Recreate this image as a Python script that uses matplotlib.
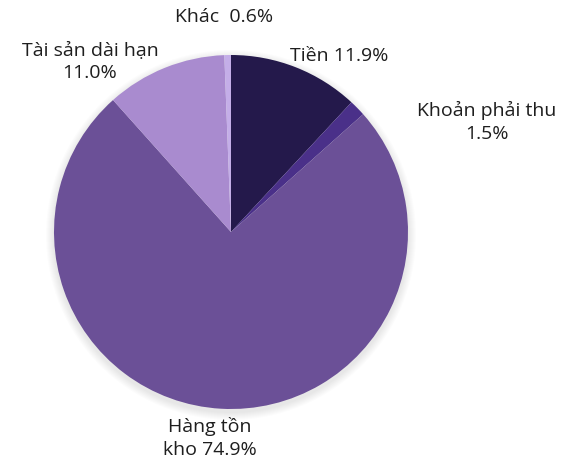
import matplotlib
matplotlib.use('Agg')
import matplotlib.pyplot as plt
from matplotlib.patches import Circle

# Cơ cấu tài sản
labels = ['Tiền 11.9%', 'Khoản phải thu\n1.5%', 'Hàng tồn\nkho 74.9%', 'Tài sản dài hạn\n11.0%', 'Khác  0.6%']
values = [11.9, 1.5, 74.9, 11.0, 0.6]
colors = ['#24194b', '#4a3089', '#6b5097', '#a98bcf', '#c4aee8']
label_pos = [(339, 56), (487, 122), (210, 438), (90, 62), (224, 17)]

plt.rcParams['font.family'] = ['Open Sans', 'DejaVu Sans']

W, H = 577, 466
fig = plt.figure(figsize=(W / 100, H / 100), dpi=100)
ax = fig.add_axes([0, 0, 1, 1])

cx, cy, r = 231, 232, 177

# bóng mờ nhẹ
for i in range(8):
    ax.add_patch(Circle((cx, cy + 3), r + 1 + i, color='black', alpha=0.012, lw=0, zorder=0))

# y bị lật nên counterclock=True cho chiều kim đồng hồ trên ảnh
ax.pie(values, colors=colors, startangle=-90, counterclock=True,
       center=(cx, cy), radius=r, frame=True,
       wedgeprops=dict(linewidth=0))
ax.set_xlim(0, W)
ax.set_ylim(H, 0)
ax.axis('off')

for lab, (x, y) in zip(labels, label_pos):
    ax.text(x, y, lab, ha='center', va='center', fontsize=14, color='#1e1e1e', linespacing=1.3)

plt.savefig('out.png', dpi=100)
